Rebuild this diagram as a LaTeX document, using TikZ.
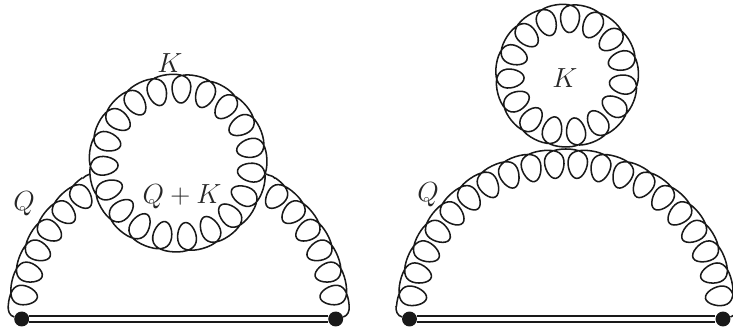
\documentclass[tikz,border=0pt]{standalone}
\usepackage{amsmath}
\usetikzlibrary{calc}
% #1 outer radius, #2 inner radius, #3 sideways swing, #4 angle of first loop, #5 angle step, #6 #7 loop range
\newcommand{\gluonplot}[7]{plot[domain=#6:#7, samples={int(30*(#7-(#6)))+1}, variable=\x]
  ({(((#1+#2)/2+(#1-#2)/16)-(#1-#2)/2*cos(360*\x)-(#1-#2)/16*cos(720*\x))*cos(#4+\x*(#5))+#3*sign(#5)*(sin(360*\x)-0.06*sin(720*\x))*sin(#4+\x*(#5))},
   {(((#1+#2)/2+(#1-#2)/16)-(#1-#2)/2*cos(360*\x)-(#1-#2)/16*cos(720*\x))*sin(#4+\x*(#5))-#3*sign(#5)*(sin(360*\x)-0.06*sin(720*\x))*cos(#4+\x*(#5))})}
\tikzset{
  gluon/.style={line width=1.15pt, black!90},
  heavy/.style={double, double distance=3.4pt, line width=1.1pt, black!90},
  vertex/.style={circle, fill=black!90, inner sep=0pt, minimum size=11.2pt},
  lab/.style={black!85}
}
\begin{document}
\begin{tikzpicture}[x=0.75pt, y=0.75pt, font=\huge]
\useasboundingbox (0,0) rectangle (733,334);
% left diagram
\node[vertex] (dotLa) at (21.7,15) {};
\node[vertex] (dotLb) at (335.7,15) {};
\draw[heavy] (dotLa) -- (dotLb);
\coordinate (arcL) at (178.7,15);
\coordinate (ringL) at (178,171);
\coordinate (tailLa) at (8.2,28.1);
\coordinate (tailLb) at (349.2,28.1);
\coordinate (endLa) at (90,160);
\coordinate (endLb) at (266,160);
\draw[gluon] (dotLa) to[out=165, in=265] (tailLa);
\draw[gluon] (dotLb) to[out=15, in=-85] (tailLb);
\draw[gluon, shift={(arcL)}] \gluonplot{171}{143}{15.5}{171.3}{-8.55}{-0.5}{5.5};
\draw[gluon, shift={(arcL)}] \gluonplot{171}{143}{15.5}{8.7}{8.55}{-0.5}{5.5};
\draw[gluon, shift={(ringL)}] \gluonplot{89}{60}{15.5}{87.4}{18.947}{0}{19};
\draw[gluon] (82.5,155.5) to[out=55, in=210] (endLa);
\draw[gluon] (275,155.5) to[out=125, in=-30] (endLb);
\node[lab] (kL) at (170,271) {$K$};
\node[lab] (qL) at (24,130) {$Q$};
\node[lab] (qkL) at (182,137) {$Q+K$};
% right diagram
\node[vertex] (dotRa) at (409.5,15) {};
\node[vertex] (dotRb) at (723,15) {};
\draw[heavy] (dotRa) -- (dotRb);
\coordinate (arcR) at (566,15);
\coordinate (ringR) at (567,258.5);
\coordinate (tailRa) at (396,28.1);
\coordinate (tailRb) at (736,28.1);
\draw[gluon] (dotRa) to[out=165, in=265] (tailRa);
\draw[gluon] (dotRb) to[out=15, in=-85] (tailRb);
\draw[gluon, shift={(arcR)}] \gluonplot{170}{141}{15.5}{171.5}{-8.58}{-0.5}{19.5};
\draw[gluon, shift={(ringR)}] \gluonplot{71.5}{43}{15.5}{87}{24}{0}{15};
\node[lab] (kR) at (565,256) {$K$};
\node[lab] (qR) at (428,139) {$Q$};
\end{tikzpicture}
\end{document}
